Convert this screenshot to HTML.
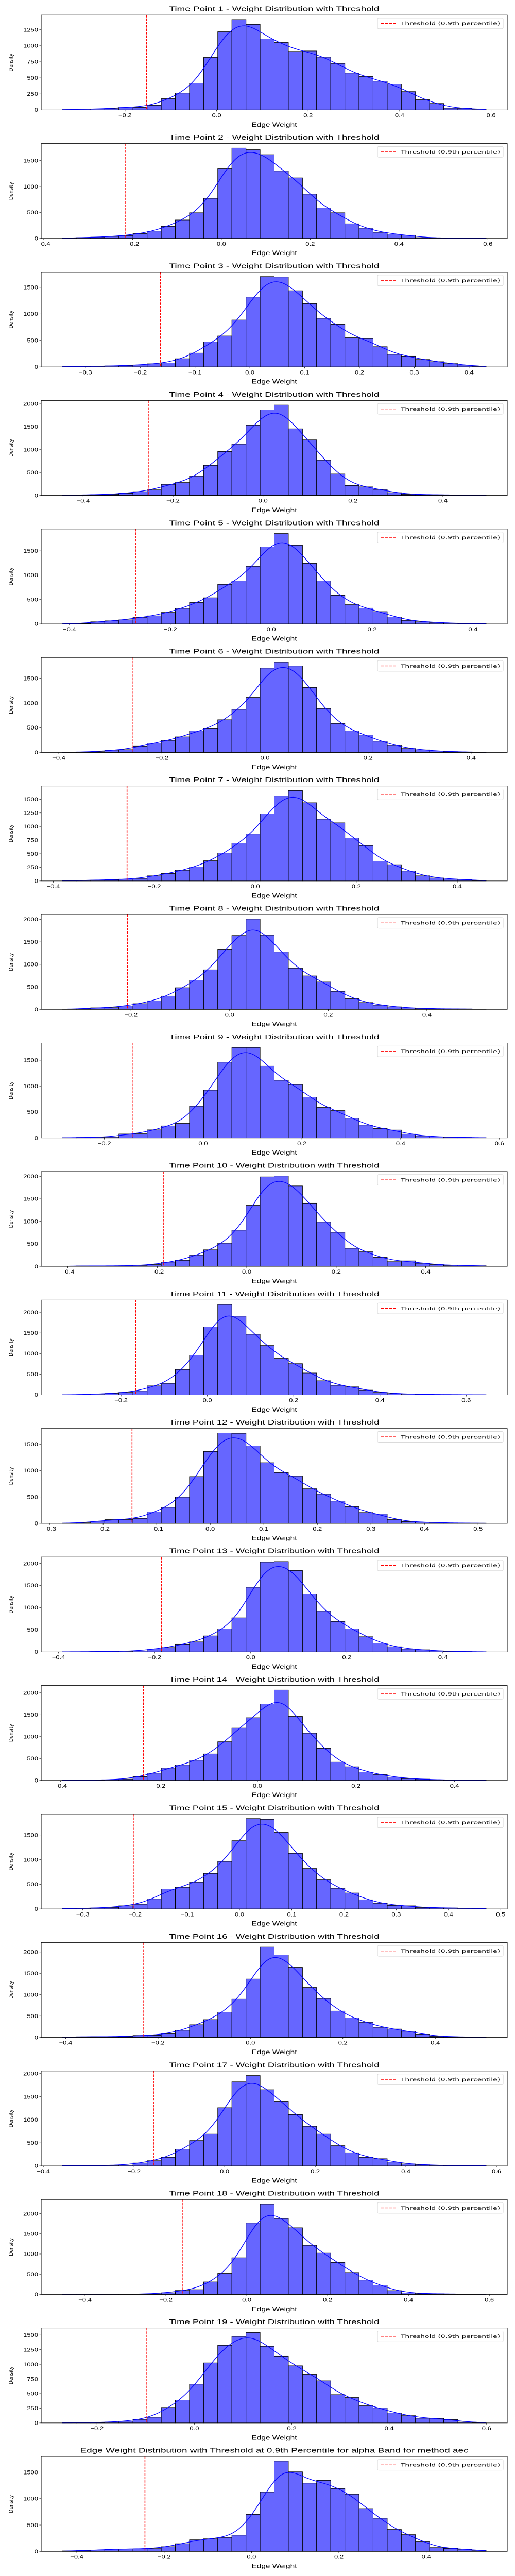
<!DOCTYPE html>
<html><head><meta charset="utf-8">
<style>
html,body{margin:0;padding:0;background:#fff;width:100%;height:100%;overflow:hidden;}
svg{display:block;position:fixed;left:0;top:0;width:100vw;height:100vh;}
</style></head>
<body>
<svg id="fig" viewBox="0 0 1000 6000" preserveAspectRatio="none" xmlns="http://www.w3.org/2000/svg"></svg>
<script>
const binStarts = [-0.337,-0.358,-0.342,-0.446,-0.414,-0.393,-0.382,-0.339,-0.285,-0.412,-0.336,-0.276,-0.392,-0.396,-0.339,-0.407,-0.358,-0.456,-0.271,-0.433];
const binEnds   = [0.589,0.596,0.431,0.496,0.426,0.429,0.457,0.520,0.573,0.535,0.646,0.515,0.490,0.464,0.472,0.510,0.577,0.592,0.599,0.537];
const thresholds = [-0.153,-0.2155,-0.163,-0.255,-0.269,-0.256,-0.254,-0.207,-0.142,-0.1855,-0.166,-0.146,-0.1855,-0.2316,-0.202,-0.231,-0.156,-0.158,-0.0976,-0.244];
const xTickSteps = [0.2,0.2,0.1,0.2,0.2,0.2,0.2,0.2,0.2,0.2,0.2,0.1,0.2,0.2,0.1,0.2,0.2,0.2,0.2,0.2];
const yTickSteps = [250,500,500,500,500,500,250,500,500,500,500,500,500,500,500,500,500,500,250,500];
const binCounts = [
 [5,10,15,20,47,40,72,175,262,416,818,1219,1409,1333,1107,1051,912,919,823,724,575,521,447,400,286,159,101,27,25,11],
 [10,16,25,38,54,92,140,232,355,495,771,1342,1741,1709,1614,1300,1167,853,587,495,282,197,117,82,63,16,10,8,6,5],
 [6,9,12,19,25,37,59,75,155,261,472,584,885,1317,1705,1696,1438,1193,916,804,550,534,382,236,202,140,99,62,34,12],
 [7,11,18,25,47,83,122,241,281,422,656,959,1121,1535,1870,1975,1456,1214,771,468,216,187,130,61,25,18,14,11,7,7],
 [3,10,44,64,84,135,166,236,318,439,537,811,882,1182,1581,1855,1615,1243,882,588,395,324,253,142,71,44,30,17,7,7],
 [7,10,17,47,57,126,186,243,316,436,479,662,871,1114,1706,1829,1749,1314,888,585,436,352,226,140,80,53,30,17,10,7],
 [6,12,15,21,33,45,94,136,196,259,371,513,694,863,1234,1554,1660,1437,1135,1068,788,649,362,299,181,94,54,33,27,9],
 [7,15,36,40,77,128,193,296,482,650,880,1336,1642,2007,1650,1277,916,745,609,401,237,153,95,58,33,22,15,11,11,7],
 [6,10,13,16,76,80,156,232,280,613,922,1462,1745,1745,1386,1112,1030,788,588,528,378,248,181,153,73,38,22,13,10,6],
 [7,11,11,11,15,22,40,95,135,252,369,516,804,1356,1989,2007,1788,1404,987,757,402,325,201,106,124,69,40,22,22,15],
 [4,8,20,36,60,96,219,279,614,960,1645,2187,1904,1466,1195,884,757,530,343,231,195,116,60,32,20,12,8,8,4,4],
 [6,12,41,72,72,94,219,303,497,888,1362,1712,1706,1469,1150,962,897,656,556,422,316,206,178,72,34,22,16,9,6,6],
 [4,4,8,11,15,23,68,98,174,226,362,521,770,1460,2030,2042,1838,1313,925,687,521,343,196,117,64,49,23,11,8,4],
 [4,8,11,15,30,86,165,282,353,459,605,883,1195,1432,1744,2064,1462,1079,733,417,312,192,135,75,41,30,15,11,8,8],
 [7,14,20,30,64,95,203,405,439,544,720,963,1385,1834,1818,1554,1128,821,591,419,324,186,115,71,64,27,24,20,14,10],
 [12,15,19,15,23,46,50,85,166,297,417,591,896,1367,2116,1931,1641,1170,911,618,459,355,236,197,143,73,27,15,12,8],
 [7,7,11,14,18,64,114,186,361,550,689,1261,1821,1957,1650,1400,1111,857,689,439,286,186,157,82,43,25,14,11,11,7],
 [4,4,4,4,8,8,16,41,98,118,310,521,908,1768,2236,1878,1650,1214,1022,790,542,354,228,94,37,20,16,12,8,8],
 [3,6,8,14,28,59,96,264,390,660,1025,1323,1475,1542,1306,1138,975,829,719,483,433,292,256,169,124,79,76,56,14,8],
 [11,16,27,43,46,49,54,90,147,220,239,264,307,701,1125,1712,1508,1293,1345,1190,1084,812,628,416,318,182,73,57,41,22]
];
const titles = [];
for (let i = 1; i <= 19; i++) titles.push('Time Point ' + i + ' - Weight Distribution with Threshold');
titles.push('Edge Weight Distribution with Threshold at 0.9th Percentile for alpha Band for method aec');

const NS = 'http://www.w3.org/2000/svg';
const fig = document.getElementById('fig');
function mk(tag, attrs, parent) {
  const e = document.createElementNS(NS, tag);
  for (const k in attrs) e.setAttribute(k, attrs[k]);
  parent.appendChild(e);
  return e;
}
const AX_L = 80, AX_R = 985, AX_H = 221, PITCH = 299.3, TOP0 = 35;
const FONT = '"Liberation Sans", "DejaVu Sans", sans-serif';
const DJ = '"DejaVu Sans", "Liberation Sans", sans-serif';

function fmtX(v) { const s = Math.abs(v).toFixed(1); return (v < -1e-9 ? '\u2212' : '') + s; }

for (let p = 0; p < binCounts.length; p++) {
  const counts = binCounts[p];
  const x0 = binStarts[p], x1 = binEnds[p];
  const n = counts.length, bw = (x1 - x0) / n;
  const pad = (x1 - x0) * 0.05;
  const dMin = x0 - pad, dMax = x1 + pad;
  const top = TOP0 + p * PITCH, bot = top + AX_H;
  const xs = v => AX_L + (v - dMin) / (dMax - dMin) * (AX_R - AX_L);
  const h = bw * 0.95;
  const kde = x => { let s = 0; for (let j = 0; j < n; j++) { const c = x0 + (j + 0.5) * bw; const z = (x - c) / h; s += counts[j] * bw * Math.exp(-0.5 * z * z) / (h * Math.sqrt(2 * Math.PI)); } return s; };
  let maxV = Math.max(...counts);
  const kpts = [];
  for (let k = 0; k <= 200; k++) { const x = x0 + (x1 - x0) * k / 200; const v = kde(x); kpts.push([x, v]); if (v > maxV) maxV = v; }
  const yMax = maxV * 1.05;
  const ys = v => bot - v / yMax * AX_H;

  const g = mk('g', {}, fig);
  
  

  const t = mk('text', { x: (AX_L + AX_R) / 2, y: top - 9, 'text-anchor': 'middle', 'font-family': FONT, 'font-size': 15, fill: '#000', textLength: p === 19 ? 754 : 408, lengthAdjust: 'spacingAndGlyphs' }, g);
  t.textContent = titles[p];
  
  

  for (let j = 0; j < n; j++) {
    const bx = xs(x0 + j * bw), bx2 = xs(x0 + (j + 1) * bw);
    const r = mk('rect', { x: bx, y: ys(counts[j]), width: bx2 - bx, height: bot - ys(counts[j]), fill: '#6666ff', stroke: '#000', 'stroke-width': 1 }, g);
    
    
  }
  const kd = kpts.map((q, k) => (k ? 'L' : 'M') + xs(q[0]).toFixed(2) + ',' + ys(q[1]).toFixed(2)).join('');
  const kl = mk('path', { d: kd, fill: 'none', stroke: '#0000ff', 'stroke-width': 1.5 }, g);
  
  
  const th = mk('line', { x1: xs(thresholds[p]), x2: xs(thresholds[p]), y1: top, y2: bot, stroke: '#ff0000', 'stroke-width': 1.5, 'stroke-dasharray': '5.5,2.4' }, g);
  
  
  const fr = mk('rect', { x: AX_L, y: top, width: AX_R - AX_L, height: AX_H, fill: 'none', stroke: '#000', 'stroke-width': 1 }, g);
  
  
  const st = xTickSteps[p];
  for (let k = Math.ceil(dMin / st - 1e-9); k * st <= dMax + 1e-9; k++) {
    const v = k * st, X = xs(v);
    mk('line', { x1: X, x2: X, y1: bot, y2: bot + 3.5, stroke: '#000', 'stroke-width': 0.8 }, g);
    const tl = mk('text', { x: X, y: bot + 17, 'text-anchor': 'middle', 'font-family': FONT, 'font-size': 13, fill: '#000' }, g);
    tl.textContent = fmtX(v);
    
    
  }
  const ysStep = yTickSteps[p];
  for (let v = 0; v <= yMax; v += ysStep) {
    const Y = ys(v);
    mk('line', { x1: AX_L - 3.5, x2: AX_L, y1: Y, y2: Y, stroke: '#000', 'stroke-width': 0.8 }, g);
    const tl = mk('text', { x: AX_L - 6, y: Y + 4.5, 'text-anchor': 'end', 'font-family': FONT, 'font-size': 13, fill: '#000' }, g);
    tl.textContent = String(v);
    
    
  }
  const xl = mk('text', { x: (AX_L + AX_R) / 2, y: bot + 39, 'text-anchor': 'middle', 'font-family': FONT, 'font-size': 14, fill: '#000', textLength: 88, lengthAdjust: 'spacingAndGlyphs' }, g);
  xl.textContent = 'Edge Weight';
  
  
  const yl = mk('text', { x: 0, y: 0, 'text-anchor': 'middle', 'font-family': DJ, 'font-size': 11, fill: '#000', transform: 'translate(25,' + (top + AX_H / 2) + ') rotate(-90)' }, g);
  yl.textContent = 'Density';
  
  
  const lg = mk('g', {}, g);
  
  
  mk('rect', { x: 733, y: top + 7, width: 244, height: 25, rx: 2.5, fill: '#fff', 'fill-opacity': 0.8, stroke: '#d5d5d5', 'stroke-width': 1 }, lg);
  mk('line', { x1: 740, x2: 769, y1: top + 19.5, y2: top + 19.5, stroke: '#ff0000', 'stroke-width': 1.5, 'stroke-dasharray': '5.5,2.4' }, lg);
  const lt = mk('text', { x: 778, y: top + 23.5, 'font-family': DJ, 'font-size': 11, fill: '#000', textLength: 193, lengthAdjust: 'spacingAndGlyphs' }, lg);
  lt.textContent = 'Threshold (0.9th percentile)';
  
  
}
</script>
</body></html>
